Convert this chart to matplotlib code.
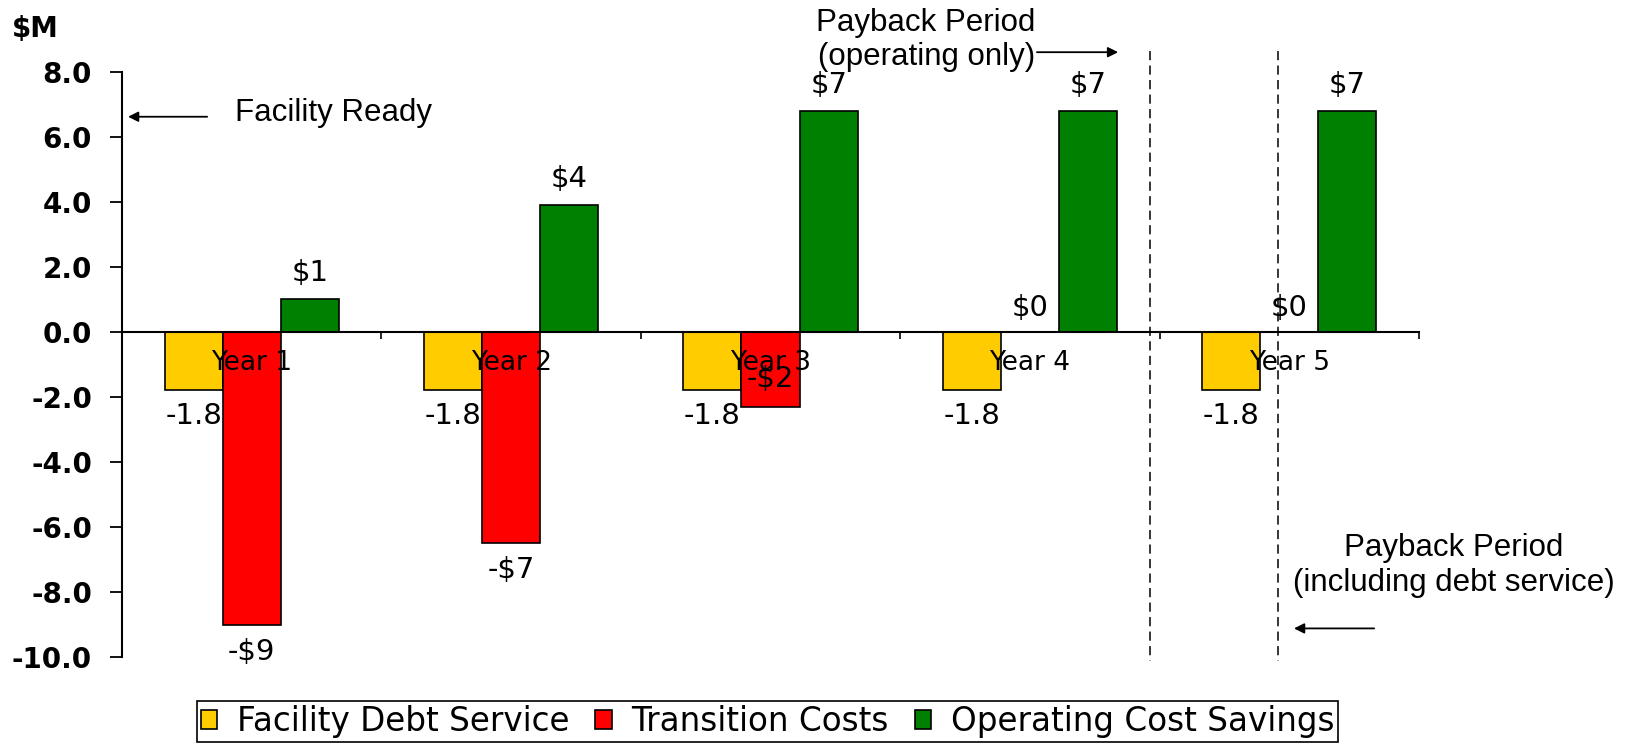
import numpy as np
import matplotlib
matplotlib.use('Agg')
import matplotlib.pyplot as plt

plt.rcParams['font.family'] = 'DejaVu Sans'
plt.rcParams['axes.unicode_minus'] = False

# dane z wykresu ($M)
years = ['Year 1', 'Year 2', 'Year 3', 'Year 4', 'Year 5']
debt = [-1.8, -1.8, -1.8, -1.8, -1.8]
transition = [-9.0, -6.5, -2.3, 0.0, 0.0]
savings = [1.0, 3.9, 6.8, 6.8, 6.8]
debt_labels = ['-1.8', '-1.8', '-1.8', '-1.8', '-1.8']
transition_labels = ['-$9', '-$7', '-$2', '$0', '$0']
savings_labels = ['$1', '$4', '$7', '$7', '$7']
yticks = [-10, -8, -6, -4, -2, 0, 2, 4, 6, 8]

fig = plt.figure(figsize=(16.32, 7.43), dpi=100)
ax = fig.add_axes([0.0748, 0.1157, 0.7947, 0.7878])
ax.set_xlim(-0.5, 4.5)
ax.set_ylim(-10, 8)

x = np.arange(len(years))
w = 0.224
ax.bar(x - w, debt, w, color='#FFCC00', edgecolor='black', linewidth=1.2, label='Facility Debt Service')
ax.bar(x, transition, w, color='#FF0000', edgecolor='black', linewidth=1.2, label='Transition Costs')
ax.bar(x + w, savings, w, color='#008000', edgecolor='black', linewidth=1.2, label='Operating Cost Savings')

# osie
for s in ['top', 'right']:
    ax.spines[s].set_visible(False)
ax.spines['bottom'].set_position(('data', 0))
ax.spines['bottom'].set_linewidth(1.5)
ax.spines['left'].set_linewidth(1.5)
ax.set_yticks(yticks)
ax.set_yticklabels([f'{v:.1f}' for v in yticks], fontsize=20, fontweight='bold')
ax.tick_params(axis='y', direction='out', length=8.6, width=1.3, pad=13)
ax.set_xticks(x + 0.5)
ax.set_xticklabels([])
ax.tick_params(axis='x', direction='out', length=5, width=1.2)

# etykiety
for i in range(len(years)):
    ax.annotate(years[i], (x[i], 0), xytext=(0, -22.3), textcoords='offset points',
                ha='center', va='center', fontsize=19)
    ax.annotate(debt_labels[i], (x[i] - w, debt[i]), xytext=(0, -18.7), textcoords='offset points',
                ha='center', va='center', fontsize=21)
    t = transition[i]
    if t == 0:
        dy = 17
    elif t > -3:
        dy = 20    # krotki slupek - etykieta w srodku
    else:
        dy = -19.5
    ax.annotate(transition_labels[i], (x[i], t), xytext=(0, dy), textcoords='offset points',
                ha='center', va='center', fontsize=21)
    ax.annotate(savings_labels[i], (x[i] + w, savings[i]), xytext=(0, 18.7), textcoords='offset points',
                ha='center', va='center', fontsize=21)

# linie okresu zwrotu
for xd in [3.463, 3.957]:
    ax.plot([xd, xd], [8.64, -10.13], color='black', lw=1.1, ls=(0, (6, 3.5)), clip_on=False)

arrow = dict(arrowstyle='-|>', color='black', lw=1.3, mutation_scale=15, shrinkA=0, shrinkB=0)
ax.annotate('', xy=(-0.477, 6.615), xytext=(-0.172, 6.615), arrowprops=arrow, annotation_clip=False)
ax.text(-0.064, 6.73, 'Facility Ready', ha='left', va='center', fontsize=22.5, family='Liberation Sans')

ax.annotate('', xy=(3.34, 8.6), xytext=(3.027, 8.6), arrowprops=arrow, annotation_clip=False)
ax.text(2.60, 8.975, 'Payback Period\n(operating only)', ha='center', va='center',
        fontsize=22.5, family='Liberation Sans', linespacing=1.2)

ax.annotate('', xy=(4.018, -9.12), xytext=(4.327, -9.12), arrowprops=arrow, annotation_clip=False)
ax.text(4.635, -7.18, 'Payback Period\n(including debt service)', ha='center', va='center',
        fontsize=22.5, family='Liberation Sans', linespacing=1.2)

fig.text(0.0074, 0.950, '$M', ha='left', va='baseline', fontsize=20, fontweight='bold')

leg = fig.legend(loc='center', bbox_to_anchor=(0.4703, 0.0289), ncol=3, fontsize=23.5,
                 frameon=True, fancybox=False, edgecolor='black', framealpha=1,
                 handlelength=0.5, handleheight=0.5, handletextpad=0.6,
                 columnspacing=0.8, borderpad=0.12, borderaxespad=0)
leg.get_frame().set_linewidth(1.2)

fig.savefig('out.png', dpi=100)
